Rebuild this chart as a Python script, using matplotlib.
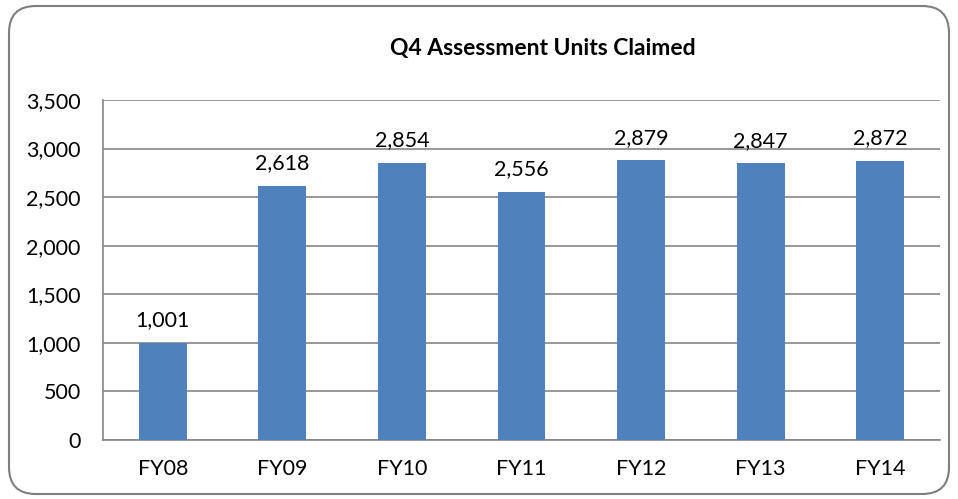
import matplotlib.pyplot as plt
from matplotlib.patches import FancyBboxPatch

years = ['FY08', 'FY09', 'FY10', 'FY11', 'FY12', 'FY13', 'FY14']
units = [1001, 2618, 2854, 2556, 2879, 2847, 2872]
yticks = [0, 500, 1000, 1500, 2000, 2500, 3000, 3500]

plt.rcParams['font.family'] = ['Lato', 'DejaVu Sans']

fig = plt.figure(figsize=(9.58, 4.99), dpi=100)
frame = FancyBboxPatch((9 / 958, 5 / 499), 940 / 958, 488 / 499,
                       boxstyle='round,pad=0,rounding_size=0.028',
                       transform=fig.transFigure, facecolor='none',
                       edgecolor='#7f7f7f', linewidth=1.5, mutation_aspect=958 / 499,
                       zorder=5)
fig.patches.append(frame)

ax = fig.add_axes([103 / 958, 1 - 440 / 499, 837 / 958, 340 / 499])
x = range(len(years))
bars = ax.bar(x, units, width=0.4, color='#4F81BD', zorder=3)
for xi, v in zip(x, units):
    ax.annotate(f'{v:,}', (xi, v), xytext=(0, 9), textcoords='offset points',
                ha='center', va='bottom', fontsize=15.5)

ax.set_xlim(-0.5, len(years) - 0.5)
ax.set_ylim(0, 3500)
ax.set_yticks(yticks)
ax.set_yticklabels([f'{t:,}' for t in yticks])
ax.set_xticks(list(x))
ax.set_xticklabels(years)
ax.tick_params(axis='both', length=0, labelsize=15.5)
ax.tick_params(axis='y', pad=16)
ax.tick_params(axis='x', pad=14)
ax.grid(axis='y', color='#868686', linewidth=1.2, zorder=0)
for s in ['top', 'right']:
    ax.spines[s].set_visible(False)
for s in ['left', 'bottom']:
    ax.spines[s].set_color('#868686')
    ax.spines[s].set_linewidth(1.2)

fig.text(0.567, 1 - 48 / 499, 'Q4 Assessment Units Claimed', ha='center', va='center',
         fontsize=16.5, fontweight='bold')

fig.savefig('out.png', dpi=100)
